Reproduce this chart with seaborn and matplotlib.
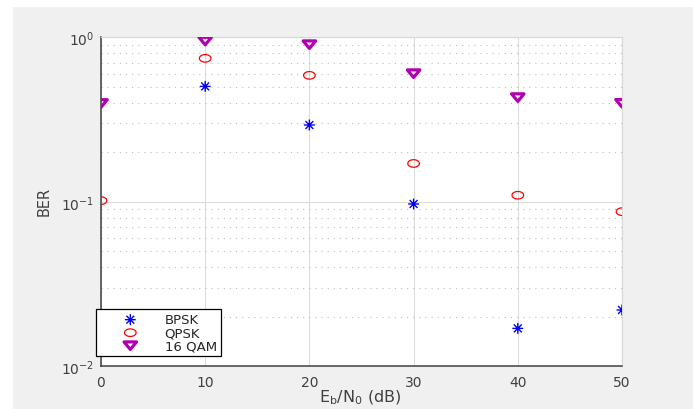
import numpy as np
import pandas as pd
import matplotlib
matplotlib.use("Agg")
import matplotlib.pyplot as plt
import seaborn as sns
from matplotlib.patches import Rectangle
from matplotlib.path import Path

snr_db = [0, 10, 20, 30, 40, 50]
bpsk = [np.nan, 0.503, 0.293, 0.097, 0.0170, 0.0220]
qpsk = [0.1016, 0.745, 0.587, 0.171, 0.1096, 0.0871]
qam16 = [0.396, 0.949, 0.902, 0.601, 0.430, 0.397]
series_names = ["BPSK", "QPSK", "16 QAM"]

sns.set_style("white")
plt.rcParams['font.family'] = ['DejaVu Sans']
plt.rcParams['mathtext.fontset'] = 'dejavusans'
plt.rcParams['axes.unicode_minus'] = False

# marker shapes (slightly wide, as in the reference)
_t = np.linspace(0, 2 * np.pi, 41)
ellipse_marker = Path(np.column_stack([np.cos(_t), 0.65 * np.sin(_t)]), closed=True)
tri_marker = Path([(-1, 0.6), (1, 0.6), (0, -0.6), (-1, 0.6)],
                  [Path.MOVETO, Path.LINETO, Path.LINETO, Path.CLOSEPOLY])
_a = []
_c = []
for dx, dy in [(1, 0), (0, 1), (0.72, 0.72), (0.72, -0.72)]:
    _a += [(-dx, -dy), (dx, dy)]
    _c += [Path.MOVETO, Path.LINETO]
star_marker = Path(_a, _c)

fig = plt.figure(figsize=(6.93, 4.10), dpi=100, facecolor='white')
fig.patches.append(Rectangle((13/693, 0), 1 - 13/693, 1 - 8/410, transform=fig.transFigure,
                             facecolor='#f0f0f0', edgecolor='none', zorder=-10))
ax = fig.add_axes([101/693, 1 - 367.3/410, 521/693, 329/410])
ax.set_facecolor('white')

df = pd.DataFrame({"snr": snr_db * 3,
                   "ber": bpsk + qpsk + qam16,
                   "mod": sum([[n] * len(snr_db) for n in series_names], [])})

sns.scatterplot(data=df[df["mod"] == "BPSK"], x="snr", y="ber", ax=ax,
                marker=star_marker, s=62, facecolors='none', edgecolor='#0000ff',
                linewidth=1.0, label="BPSK", zorder=3)
sns.scatterplot(data=df[df["mod"] == "QPSK"], x="snr", y="ber", ax=ax,
                marker=ellipse_marker, s=70, facecolors='none', edgecolor='#ff0000',
                linewidth=0.9, label="QPSK", zorder=3)
sns.scatterplot(data=df[df["mod"] == "16 QAM"], x="snr", y="ber", ax=ax,
                marker=tri_marker, s=82, facecolors='none', edgecolor='#b000b0',
                linewidth=2.3, label="16 QAM", zorder=3)

ax.set_yscale('log')
ax.set_xlim(0, 50)
ax.set_ylim(1e-2, 1)
ax.set_xticks([0, 10, 20, 30, 40, 50])

ax.grid(True, which='major', axis='both', color='#dcdcdc', linewidth=0.8, linestyle='-')
ax.grid(True, which='minor', axis='y', color='#bdbdbd', linewidth=0.8, linestyle=(0, (1, 4.5)))
ax.set_axisbelow(True)

for s in ['left', 'bottom']:
    ax.spines[s].set_color('#404040')
    ax.spines[s].set_linewidth(1.1)
for s in ['top', 'right']:
    ax.spines[s].set_color('#d8d8d8')
    ax.spines[s].set_linewidth(0.8)

ax.tick_params(axis='both', which='both', direction='in', colors='#404040',
               labelcolor='#404040', labelsize=10)
ax.tick_params(axis='y', which='major', length=4, pad=5)
ax.tick_params(axis='y', which='minor', length=2.5)
ax.tick_params(axis='x', which='major', length=4, pad=6)

ax.set_xlabel("E$_\\mathrm{b}$/N$_\\mathrm{0}$ (dB)", fontsize=11.5, color='#404040', va='top')
ax.xaxis.set_label_coords(0.497, -0.066)
ax.set_ylabel("BER", fontsize=10.5, color='#404040')
ax.yaxis.set_label_coords(-0.094, 0.505)

leg = ax.legend(loc='lower left', bbox_to_anchor=(-0.0096, 0.031), borderaxespad=0,
                fontsize=9.5, frameon=True, fancybox=False, framealpha=1,
                edgecolor='black', handlelength=4.6, handletextpad=0.3,
                borderpad=0.3, labelspacing=0.0, scatterpoints=1)
leg.get_frame().set_linewidth(0.9)

fig.savefig("out.png", dpi=100, facecolor=fig.get_facecolor())
